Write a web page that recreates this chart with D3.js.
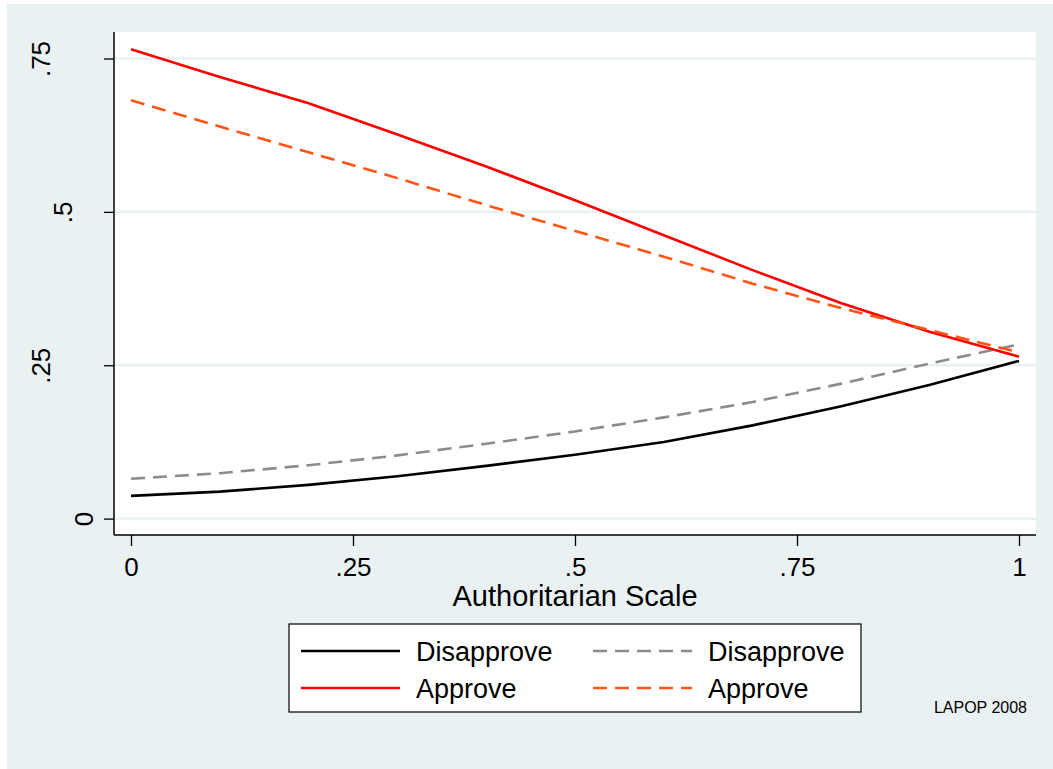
<!DOCTYPE html>
<html>
<head>
<meta charset="utf-8">
<script src="https://cdn.jsdelivr.net/npm/d3@7"></script>
<style>
  body { margin: 0; background: #ffffff; }
  svg text { font-family: "Liberation Sans", Arial, sans-serif; fill: #000; }
</style>
</head>
<body>
<div id="chart"></div>
<script>
// predicted probabilities by authoritarian scale
let scaleValues = [0, 0.1, 0.2, 0.3, 0.4, 0.5, 0.6, 0.7, 0.8, 0.9, 1];
let disapproveA = [0.037, 0.044, 0.055, 0.069, 0.086, 0.104, 0.125, 0.152, 0.183, 0.218, 0.257];
let approveA = [0.765, 0.720, 0.677, 0.626, 0.574, 0.519, 0.462, 0.405, 0.351, 0.304, 0.264];
let disapproveB = [0.065, 0.074, 0.087, 0.103, 0.122, 0.142, 0.165, 0.190, 0.220, 0.253, 0.284];
let approveB = [0.682, 0.639, 0.597, 0.555, 0.511, 0.469, 0.427, 0.383, 0.343, 0.307, 0.271];

let xTicks = [0, 0.25, 0.5, 0.75, 1];
let xTickLabels = ["0", ".25", ".5", ".75", "1"];
let yTicks = [0, 0.25, 0.5, 0.75];
let yTickLabels = ["0", ".25", ".5", ".75"];
let legendLabels = ["Disapprove", "Disapprove", "Approve", "Approve"];

let series = [
  { values: disapproveA, color: "#000000", dash: null },
  { values: disapproveB, color: "#8c8c8c", dash: "14,8" },
  { values: approveA, color: "#ff0000", dash: null },
  { values: approveB, color: "#ff5414", dash: "14,8" }
];

let W = 1053, H = 769,
  bg = "#eaf1f3",
  plot = { left: 114, top: 32, right: 1036, bottom: 535 };

let svg = d3.select("#chart")
  .append("svg")
  .attr("width", W)
  .attr("height", H);

svg.append("rect")
  .attr("x", 7).attr("y", 4)
  .attr("width", W - 7).attr("height", H - 4)
  .attr("fill", bg);

svg.append("rect")
  .attr("x", plot.left).attr("y", plot.top)
  .attr("width", plot.right - plot.left).attr("height", plot.bottom - plot.top)
  .attr("fill", "#fff");

let x = d3.scaleLinear().domain([0, 1]).range([131, 1019]);
let y = d3.scaleLinear().domain([0, 0.75]).range([518.6, 58.5]);

// grid
svg.append("g")
  .selectAll("line")
  .data(yTicks)
  .enter()
  .append("line")
  .attr("x1", plot.left).attr("x2", plot.right)
  .attr("y1", d => y(d)).attr("y2", d => y(d))
  .attr("stroke", bg)
  .attr("stroke-width", 2.5);

// y axis
let yAxis = svg.append("g")
  .attr("transform", "translate(" + plot.left + ",0)")
  .call(d3.axisLeft(y)
    .tickValues(yTicks)
    .tickSize(10)
    .tickSizeOuter(0)
    .tickFormat((d, i) => yTickLabels[i]));

yAxis.select(".domain").remove();
yAxis.selectAll(".tick line").attr("stroke", "#000").attr("stroke-width", 1.3);
yAxis.selectAll(".tick text")
  .attr("font-size", 26)
  .attr("x", null).attr("dy", null)
  .style("text-anchor", "middle")
  .attr("transform", function () {
    // stata shifts the rotated labels by their length
    let n = this.textContent.length;
    let bx = 93 - 21.5 * (n - 1) - plot.left;
    return "translate(" + bx + ",0) rotate(-90)";
  });

// x axis
let xAxis = svg.append("g")
  .attr("transform", "translate(0," + plot.bottom + ")")
  .call(d3.axisBottom(x)
    .tickValues(xTicks)
    .tickSize(11)
    .tickSizeOuter(0)
    .tickFormat((d, i) => xTickLabels[i]));

xAxis.select(".domain").remove();
xAxis.selectAll(".tick line").attr("stroke", "#000").attr("stroke-width", 1.3);
xAxis.selectAll(".tick text")
  .attr("font-size", 26)
  .attr("dy", null)
  .attr("y", 41);

xAxis.append("text")
  .attr("x", x(0.5))
  .attr("y", 71)
  .attr("font-size", 29)
  .style("text-anchor", "middle")
  .text("Authoritarian Scale");

// axis lines
svg.append("line")
  .attr("x1", plot.left).attr("x2", plot.left)
  .attr("y1", plot.top).attr("y2", plot.bottom)
  .attr("stroke", "#000").attr("stroke-width", 1.5);
svg.append("line")
  .attr("x1", plot.left).attr("x2", plot.right)
  .attr("y1", plot.bottom).attr("y2", plot.bottom)
  .attr("stroke", "#000").attr("stroke-width", 1.5);

// lines
let line = d3.line()
  .x((d, i) => x(scaleValues[i]))
  .y(d => y(d));

svg.append("g")
  .selectAll("path")
  .data(series)
  .enter()
  .append("path")
  .attr("d", d => line(d.values))
  .attr("fill", "none")
  .attr("stroke", d => d.color)
  .attr("stroke-width", 2.6)
  .attr("stroke-dasharray", d => d.dash);

// legend
let legend = svg.append("g");

legend.append("rect")
  .attr("x", 289).attr("y", 624)
  .attr("width", 572).attr("height", 88)
  .attr("fill", "#fff")
  .attr("stroke", "#000")
  .attr("stroke-width", 1.2);

let items = legend.selectAll(".item")
  .data(series)
  .enter()
  .append("g")
  .attr("class", "item")
  .attr("transform", (d, i) => "translate(" + (i % 2 === 0 ? 301 : 593) + "," + (i < 2 ? 651 : 688) + ")");

items.append("line")
  .attr("x1", 0).attr("x2", 99)
  .attr("stroke", d => d.color)
  .attr("stroke-width", 2.6)
  .attr("stroke-dasharray", d => d.dash);

items.append("text")
  .attr("x", 115)
  .attr("y", 10)
  .attr("font-size", 27)
  .text((d, i) => legendLabels[i]);

svg.append("text")
  .attr("x", 1027)
  .attr("y", 713)
  .attr("font-size", 16)
  .style("text-anchor", "end")
  .text("LAPOP 2008");
</script>
</body>
</html>
